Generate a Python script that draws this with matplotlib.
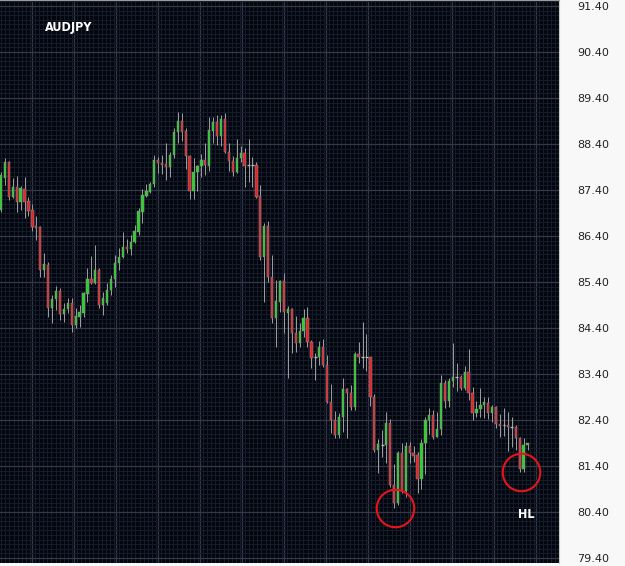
import numpy as np
import matplotlib
matplotlib.use('Agg')
import matplotlib.pyplot as plt
from matplotlib.ticker import FixedLocator, MultipleLocator

# AUDJPY daily candles (oldest first)
opens = [86.97, 87.66, 88.01, 87.25, 87.47, 87.14, 87.42, 87.16, 86.97, 86.60,
         86.60, 85.66, 85.77, 84.83, 85.03, 85.20, 84.70, 84.81, 84.94, 84.46,
         84.64, 84.73, 85.14, 85.47, 85.38, 85.66, 84.90, 84.94, 85.23, 85.47,
         85.81, 85.94, 86.16, 86.12, 86.27, 86.49, 86.92, 87.27, 87.36, 87.53,
         88.05, 87.99, 87.96, 87.90, 88.16, 88.66, 88.90, 88.68, 88.14, 87.38,
         87.79, 87.92, 88.05, 87.92, 88.68, 88.88, 88.57, 88.94, 88.23, 88.03,
         87.79, 88.10, 88.21, 87.94, 87.94, 87.94, 87.27, 85.94, 86.62, 85.51,
         84.62, 84.97, 85.42, 84.73, 84.81, 84.29, 84.07, 84.33, 84.62, 84.09,
         83.77, 83.77, 83.99, 83.60, 82.79, 82.40, 82.07, 82.46, 83.07, 82.99,
         82.68, 83.84, 83.77, 83.77, 83.77, 82.90, 81.75, 81.86, 81.86, 82.33,
         80.99, 80.60, 81.68, 80.86, 81.83, 81.68, 81.64, 81.12, 81.90, 82.40,
         82.51, 82.03, 82.21, 83.20, 82.81, 83.25, 83.33, 83.33, 83.09, 83.44,
         82.99, 82.55, 82.64, 82.73, 82.77, 82.55, 82.68, 82.31, 82.29, 82.29,
         82.25, 82.25, 82.01, 81.33, 81.86]
highs = [87.79, 88.10, 88.03, 87.66, 87.70, 87.49, 87.68, 87.25, 87.10, 86.83,
         86.62, 86.03, 85.83, 85.12, 85.31, 85.27, 84.94, 85.05, 85.05, 84.83,
         84.90, 85.18, 85.70, 85.97, 86.20, 85.70, 85.18, 85.38, 85.55, 85.99,
         86.14, 86.49, 86.33, 86.42, 86.64, 87.01, 87.42, 87.53, 87.57, 88.16,
         88.12, 88.16, 88.42, 88.23, 88.75, 89.10, 89.07, 88.75, 88.16, 88.10,
         87.94, 88.18, 88.42, 88.99, 88.99, 89.03, 89.03, 89.07, 88.42, 88.14,
         88.51, 88.36, 88.31, 88.51, 88.12, 88.01, 87.51, 86.68, 86.73, 85.99,
         85.44, 85.44, 85.60, 84.88, 84.83, 84.66, 84.51, 84.81, 84.86, 84.14,
         83.86, 84.12, 84.16, 83.81, 83.18, 82.60, 82.55, 83.31, 83.09, 83.16,
         83.88, 84.10, 84.53, 84.27, 83.77, 82.96, 81.99, 82.18, 82.57, 82.42,
         81.44, 81.73, 81.90, 81.92, 81.92, 81.83, 81.70, 81.99, 82.46, 82.66,
         82.62, 82.57, 83.38, 83.27, 83.31, 84.07, 83.64, 83.38, 83.57, 83.94,
         83.12, 82.81, 83.09, 82.90, 82.90, 82.73, 82.70, 82.53, 82.66, 82.57,
         82.47, 82.29, 82.03, 82.01, 81.88]
lows = [86.92, 87.51, 87.18, 87.23, 86.92, 86.97, 86.79, 86.83, 86.51, 86.31,
        85.51, 85.51, 84.64, 84.51, 84.79, 84.57, 84.53, 84.73, 84.31, 84.40,
        84.42, 84.64, 84.97, 85.36, 85.36, 84.83, 84.68, 84.90, 85.12, 85.29,
        85.66, 85.92, 86.03, 85.99, 86.25, 86.42, 86.68, 87.25, 87.34, 87.47,
        87.77, 87.75, 87.62, 87.68, 88.10, 88.42, 88.47, 87.86, 87.20, 87.20,
        87.38, 87.68, 87.73, 87.81, 88.42, 88.38, 88.36, 88.20, 87.81, 87.70,
        87.77, 88.01, 87.47, 87.57, 87.47, 87.23, 85.88, 84.97, 85.40, 84.51,
        83.99, 84.75, 84.29, 83.31, 83.86, 83.88, 83.99, 84.20, 83.99, 83.53,
        83.27, 83.60, 83.55, 82.77, 82.12, 82.01, 82.01, 82.14, 82.01, 82.62,
        82.62, 83.64, 83.53, 83.47, 82.70, 81.70, 81.25, 81.60, 81.46, 80.94,
        80.49, 80.55, 80.81, 80.73, 81.46, 81.49, 80.81, 80.90, 81.23, 82.10,
        81.99, 82.03, 82.07, 82.66, 82.68, 83.12, 83.03, 83.05, 83.05, 82.83,
        82.40, 82.46, 82.46, 82.44, 82.42, 82.36, 82.23, 82.03, 82.05, 81.73,
        81.81, 81.75, 81.27, 81.27, 81.75]
closes = [87.73, 88.01, 87.25, 87.47, 87.14, 87.44, 87.14, 86.94, 86.60, 86.58,
          85.66, 85.79, 84.83, 85.03, 85.20, 84.70, 84.81, 84.94, 84.46, 84.66,
          84.75, 85.16, 85.47, 85.38, 85.66, 84.90, 85.05, 85.23, 85.47, 85.81,
          85.94, 86.16, 86.12, 86.27, 86.51, 86.94, 87.29, 87.38, 87.53, 88.05,
          87.99, 87.94, 87.90, 88.16, 88.66, 88.90, 88.66, 88.14, 87.38, 87.79,
          87.92, 88.05, 87.94, 88.70, 88.88, 88.57, 88.94, 88.23, 88.03, 87.79,
          88.10, 88.21, 87.92, 87.93, 87.93, 87.25, 85.94, 86.62, 85.51, 84.62,
          84.99, 85.42, 84.75, 84.81, 84.29, 84.07, 84.33, 84.62, 84.09, 83.75,
          83.76, 83.99, 83.60, 82.79, 82.40, 82.07, 82.46, 83.07, 82.99, 82.68,
          83.84, 83.77, 83.76, 83.76, 82.90, 81.75, 81.88, 81.85, 82.33, 80.99,
          80.60, 81.68, 80.86, 81.83, 81.68, 81.62, 81.12, 81.90, 82.40, 82.51,
          82.03, 82.21, 83.20, 82.81, 83.25, 83.33, 83.32, 83.09, 83.44, 82.99,
          82.55, 82.64, 82.73, 82.79, 82.55, 82.68, 82.31, 82.27, 82.28, 82.25,
          82.24, 82.01, 81.33, 81.86, 81.90]

price_ticks = [79.40, 80.40, 81.40, 82.40, 83.40, 84.40, 85.40, 86.40,
               87.40, 88.40, 89.40, 90.40, 91.40]
symbol = 'AUDJPY'
hl_label = 'HL'
hl_bars = [100, 132]  # candles marked as higher lows

bg = '#04060d'
minor_grid = '#151c2b'
major_grid = '#323a4a'
up_col = '#2ed12e'
down_col = '#e0262a'
wick_col = '#a0a0a0'

o = np.array(opens)
h = np.array(highs)
l = np.array(lows)
c = np.array(closes)
x = np.arange(len(o))

fig = plt.figure(figsize=(6.25, 5.66), dpi=100, facecolor='#f8f8f8')
ax = fig.add_axes([0, 3 / 566, 559 / 625, 563 / 566])
ax.set_facecolor(bg)

# wicks
ax.vlines(x, l, h, color=wick_col, linewidth=0.7, zorder=2)

# bodies
flat = np.abs(c - o) < 0.015
colors = np.where(c >= o, up_col, down_col)
bottom = np.minimum(o, c)
height = np.maximum(np.abs(c - o), 0.03)
ax.bar(x[~flat], height[~flat], bottom=bottom[~flat], width=0.58,
       color=colors[~flat], edgecolor='#8a8a8a', linewidth=0.35, zorder=3)
ax.hlines(o[flat], x[flat] - 0.35, x[flat] + 0.35, color='#b8b8b8', linewidth=1, zorder=3)

# circles around the higher lows
for i in hl_bars:
    ax.plot(i + 0.3, l[i], marker='o', markersize=27, markerfacecolor='none',
            markeredgecolor='#e8141c', markeredgewidth=1.5, zorder=4)

ax.set_xlim(-0.25, 142)
ax.set_ylim(79.29, 91.53)

# grid
ax.yaxis.set_major_locator(FixedLocator(price_ticks))
ax.yaxis.set_minor_locator(MultipleLocator(0.1))
ax.xaxis.set_minor_locator(MultipleLocator(1.069))
ax.set_xticks(np.arange(7.9, 142, 10.69))
ax.grid(which='major', color=major_grid, linewidth=0.9, zorder=0)
ax.grid(which='minor', color=minor_grid, linewidth=0.7, zorder=0)
ax.set_axisbelow(True)

ax.yaxis.tick_right()
ax.set_yticklabels([f'{p:.2f}' for p in price_ticks])
ax.tick_params(axis='y', which='both', length=0, pad=13, labelsize=8, labelcolor='#222222')
ax.tick_params(axis='x', which='both', length=0, labelbottom=False)

for side in ['left', 'bottom']:
    ax.spines[side].set_visible(False)
ax.spines['top'].set_color('#9a9a9a')
ax.spines['right'].set_color('#c8c8c8')

ax.text(0.123, 0.952, symbol, transform=ax.transAxes, color='white',
        fontsize=9, fontweight='bold', fontstretch='condensed', family=['DejaVu Sans'],
        ha='center', va='center')
ax.text(0.941, 0.087, hl_label, transform=ax.transAxes, color='white',
        fontsize=9, fontweight='bold', fontstretch='condensed', family=['DejaVu Sans'],
        ha='center', va='center')

plt.savefig('out.png', dpi=100, facecolor=fig.get_facecolor())
